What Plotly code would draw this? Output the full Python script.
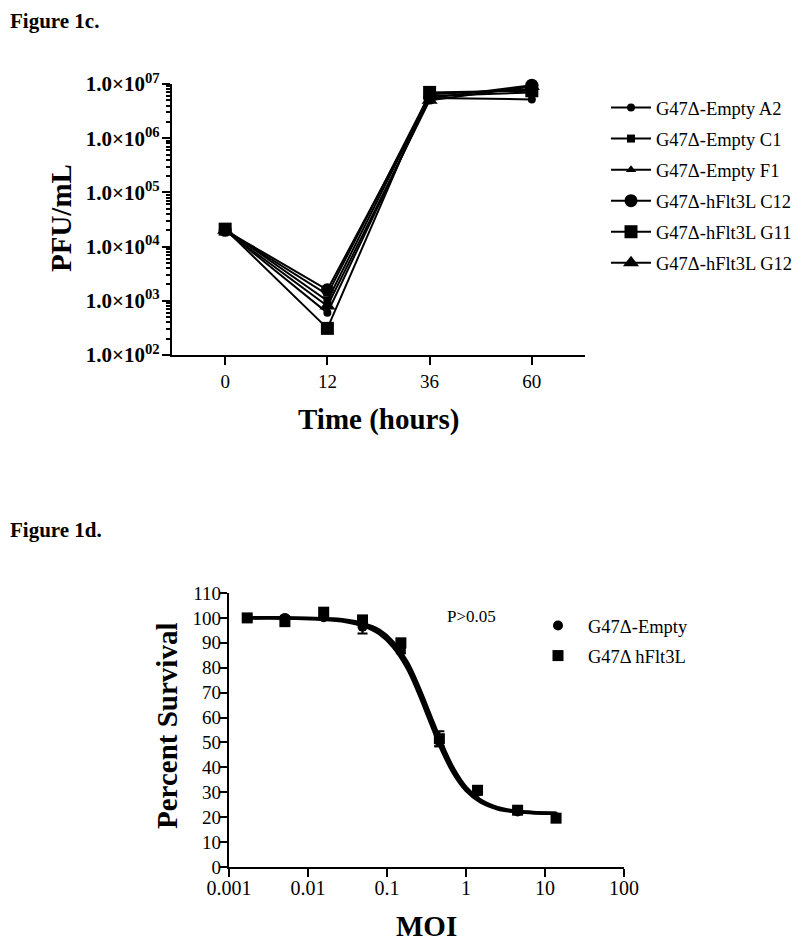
import plotly.graph_objects as go

# ---------------- Figure 1c data ----------------
times = ['0', '12', '36', '60']
series_names = ['G47Δ-Empty A2', 'G47Δ-Empty C1', 'G47Δ-Empty F1',
                'G47Δ-hFlt3L C12', 'G47Δ-hFlt3L G11', 'G47Δ-hFlt3L G12']
pfu_empty_a2 = [2.0e4, 6.0e2, 5.5e6, 5.2e6]
pfu_empty_c1 = [2.1e4, 1.0e3, 6.0e6, 7.0e6]
pfu_empty_f1 = [2.0e4, 1.3e3, 6.5e6, 8.0e6]
pfu_flt_c12 = [2.0e4, 1.6e3, 5.5e6, 9.5e6]
pfu_flt_g11 = [2.1e4, 3.1e2, 7.0e6, 7.5e6]
pfu_flt_g12 = [2.0e4, 8.0e2, 5.0e6, 9.0e6]
pfu_series = [pfu_empty_a2, pfu_empty_c1, pfu_empty_f1, pfu_flt_c12, pfu_flt_g11, pfu_flt_g12]
y_tickvals = [1e2, 1e3, 1e4, 1e5, 1e6, 1e7]
y_ticktext = ['1.0×10<sup>02</sup>', '1.0×10<sup>03</sup>', '1.0×10<sup>04</sup>',
              '1.0×10<sup>05</sup>', '1.0×10<sup>06</sup>', '1.0×10<sup>07</sup>']

# ---------------- Figure 1d data ----------------
moi = [0.0017, 0.0051, 0.0158, 0.049, 0.15, 0.46, 1.4, 4.5, 13.8]
surv_empty = [100.0, 100.0, 100.3, 96.5, 86.8, 50.5, 30.2, 22.3, 20.0]
err_empty = [0.8, 0.8, 0.8, 2.8, 1.0, 2.0, 1.0, 0.8, 0.8]
surv_flt = [100.0, 98.5, 102.3, 99.2, 90.0, 51.5, 30.8, 22.8, 19.6]
err_flt = [0.8, 0.8, 0.8, 0.8, 0.8, 3.0, 0.8, 0.8, 0.8]
curve_x = [0.0017, 0.005, 0.015, 0.03, 0.05, 0.08, 0.12, 0.18, 0.25, 0.35,
           0.5, 0.7, 1.0, 1.5, 2.5, 4.0, 7.0, 14.0]
curve_flt = [100.0, 100.0, 99.7, 99.1, 97.7, 95.0, 90.2, 82.2, 72.6, 61.2,
             49.0, 39.3, 32.0, 27.0, 23.8, 22.5, 21.9, 21.6]
curve_empty = [100.0, 100.0, 99.5, 98.6, 96.9, 93.7, 88.4, 79.9, 70.0, 58.5,
               46.6, 37.5, 30.8, 26.3, 23.4, 22.3, 21.8, 21.5]
moi_tickvals = [0.001, 0.01, 0.1, 1, 10, 100]
moi_ticktext = ['0.001', '0.01', '0.1', '1', '10', '100']

FONT = 'Liberation Serif'
symbols = ['circle', 'square', 'triangle-up', 'circle', 'square', 'triangle-up']
sizes = [8, 8, 9, 13, 13, 14]

# page body has an 8px margin: figure starts at viewport pixel (8, 8)
W, H, OFF = 792, 937, 8


def px(x):
    return (x - OFF) / W


def py(y):
    return 1 - (y - OFF) / H


fig = go.Figure()

for i, (name, vals) in enumerate(zip(series_names, pfu_series)):
    fig.add_trace(go.Scatter(
        x=times, y=vals, name=name, mode='lines+markers',
        line=dict(color='black', width=2),
        marker=dict(symbol=symbols[i], size=sizes[i], color='black'),
        xaxis='x', yaxis='y', legend='legend', legendgroup=f'g{i}',
        cliponaxis=False))

fig.add_trace(go.Scatter(x=curve_x, y=curve_empty, mode='lines', showlegend=False,
                         line=dict(color='black', width=3.5, shape='spline'),
                         xaxis='x2', yaxis='y2', cliponaxis=False))
fig.add_trace(go.Scatter(x=curve_x, y=curve_flt, mode='lines', showlegend=False,
                         line=dict(color='black', width=3.5, shape='spline'),
                         xaxis='x2', yaxis='y2', cliponaxis=False))
fig.add_trace(go.Scatter(x=moi, y=surv_empty, mode='markers', name='G47Δ-Empty',
                         marker=dict(symbol='circle', size=10, color='black'),
                         error_y=dict(type='data', array=err_empty, color='black',
                                      thickness=2, width=5),
                         xaxis='x2', yaxis='y2', legend='legend2', legendgroup='a',
                         cliponaxis=False))
fig.add_trace(go.Scatter(x=moi, y=surv_flt, mode='markers', name='G47Δ hFlt3L',
                         marker=dict(symbol='square', size=11, color='black'),
                         error_y=dict(type='data', array=err_flt, color='black',
                                      thickness=2, width=5),
                         xaxis='x2', yaxis='y2', legend='legend2', legendgroup='b',
                         cliponaxis=False))

axis_common = dict(showline=True, linecolor='black', linewidth=2.2, ticks='outside',
                   tickcolor='black', tickwidth=2, ticklen=8, showgrid=False,
                   zeroline=False, mirror=False, automargin=False)

minor_vals = [m * 10 ** e for e in range(2, 7) for m in range(2, 10)]

fig.update_layout(
    template='none',
    width=W, height=H,
    margin=dict(l=0, r=0, t=0, b=0, autoexpand=False),
    paper_bgcolor='white', plot_bgcolor='white',
    font=dict(family=FONT, color='black'),
    xaxis=dict(domain=[px(172), px(585)], anchor='y', type='category',
               range=[-0.52, 3.52], tickfont=dict(size=19, family=FONT),
               ticklabelstandoff=0, **axis_common),
    yaxis=dict(domain=[py(355), py(84)], anchor='x', type='log',
               range=[2, 7], tickmode='array', tickvals=y_tickvals, ticktext=y_ticktext,
               tickfont=dict(size=21, family=FONT, weight='bold'),
               minor=dict(tickmode='array', tickvals=minor_vals, ticks='outside',
                          ticklen=4, tickwidth=1.5, tickcolor='black', showgrid=False),
               ticklabelstandoff=-2, **axis_common),
    xaxis2=dict(domain=[px(229), px(624)], anchor='y2', type='log',
                range=[-3, 2], tickmode='array', tickvals=moi_tickvals,
                ticktext=moi_ticktext, tickfont=dict(size=20, family=FONT),
                ticklabelstandoff=-6, **axis_common),
    yaxis2=dict(domain=[py(867), py(593)], anchor='x2',
                range=[0, 110], dtick=10, tick0=0,
                tickfont=dict(size=19, family=FONT), ticklabelstandoff=-6,
                **axis_common),
    legend=dict(x=px(606), y=py(89), xanchor='left', yanchor='top',
                font=dict(size=18.5, family=FONT), tracegroupgap=4, itemwidth=40,
                bgcolor='rgba(0,0,0,0)', borderwidth=0),
    legend2=dict(x=px(528), y=py(607), xanchor='left', yanchor='top',
                 font=dict(size=18.5, family=FONT), tracegroupgap=3, itemwidth=50,
                 bgcolor='rgba(0,0,0,0)', borderwidth=0),
    showlegend=True,
)


def ann(text, x, y, size, bold=False, angle=0, xanchor='center', yanchor='middle'):
    fig.add_annotation(text=f'<b>{text}</b>' if bold else text,
                       x=px(x), y=py(y), xref='paper', yref='paper', showarrow=False,
                       xanchor=xanchor, yanchor=yanchor, textangle=angle, borderpad=0,
                       font=dict(size=size, family=FONT, color='black'))


ann('Figure 1c.', 9, 8, 21, bold=True, xanchor='left', yanchor='top')
ann('Figure 1d.', 9, 530, 21, bold=True, xanchor='left')
ann('PFU/mL', 61, 218, 29, bold=True, angle=-90)
ann('Time (hours)', 378, 420, 29, bold=True)
ann('Percent Survival', 167, 726, 29, bold=True, angle=-90)
ann('MOI', 426, 926, 29, bold=True)
ann('P>0.05', 446, 616, 17, xanchor='left')

fig.write_html('out.html')
